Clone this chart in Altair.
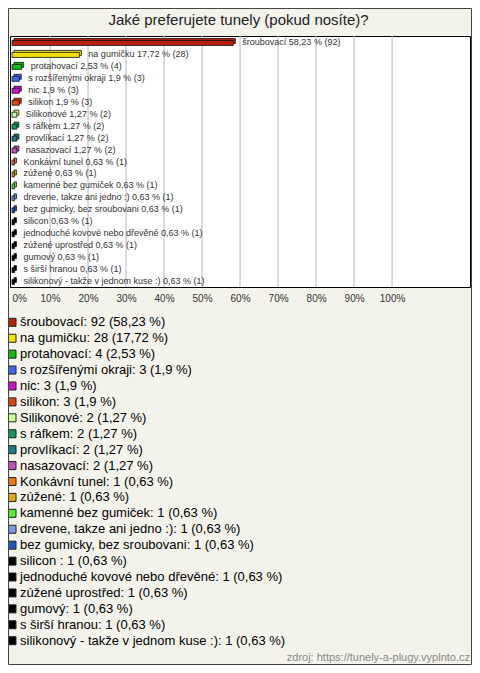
import altair as alt
import pandas as pd

TITLE = "Jaké preferujete tunely (pokud nosíte)?"
SOURCE = "zdroj: https://tunely-a-plugy.vyplnto.cz"

names = [
    "šroubovací", "na gumičku", "protahovací", "s rozšířenými okraji", "nic",
    "silikon", "Silikonové", "s ráfkem", "provlíkací", "nasazovací",
    "Konkávní tunel", "zúžené", "kamenné bez gumiček", "drevene, takze ani jedno :)",
    "bez gumicky, bez sroubovani", "silicon ", "jednoduché kovové nebo dřevěné",
    "zúžené uprostřed", "gumový", "s širší hranou", "silikonový - takže v jednom kuse :)",
]
counts = [92, 28, 4, 3, 3, 3, 2, 2, 2, 2, 1, 1, 1, 1, 1, 1, 1, 1, 1, 1, 1]
percents = [58.23, 17.72, 2.53, 1.9, 1.9, 1.9, 1.27, 1.27, 1.27, 1.27,
            0.63, 0.63, 0.63, 0.63, 0.63, 0.63, 0.63, 0.63, 0.63, 0.63, 0.63]
colors = [
    "#b8200f", "#f0e010", "#11bb11", "#4466ee", "#cc11cc", "#dd4411",
    "#ccff99", "#119955", "#227788", "#bb55bb", "#ee7711", "#ddaa11",
    "#55ee33", "#7799dd", "#2255bb", "#000000", "#000000", "#000000",
    "#000000", "#000000", "#000000",
]
tick_values = [0, 10, 20, 30, 40, 50, 60, 70, 80, 90, 100]
grid_values = [10, 20, 30, 40, 50, 60, 70, 80, 90, 100]


def fmt(p):
    return f"{p:g}".replace(".", ",")


df = pd.DataFrame({
    "name": names,
    "count": counts,
    "pct": percents,
    "bar_label": [f"{n} {fmt(p)} % ({c})" for n, p, c in zip(names, percents, counts)],
    "legend_label": [f"{n}: {c} ({fmt(p)} %)" for n, p, c in zip(names, percents, counts)],
})

FONT = "Liberation Sans"
W, H = 460, 251
TOTAL_W, TOTAL_H = 464, 657
PAD = {"left": 2, "top": 28, "right": TOTAL_W - 2 - W, "bottom": TOTAL_H - 28 - H}

x_scale = alt.Scale(domain=[-0.53, 120.5], nice=False, zero=False)
x_axis = alt.Axis(values=tick_values, labelExpr="datum.value + '%'", grid=False,
                  ticks=False, domain=False, labelFlush=3, labelFontSize=10,
                  labelColor="#333333", labelFont=FONT, labelPadding=6, title=None)
color_scale = alt.Scale(domain=names, range=colors)
bar_y = alt.Y("name:N", sort=names, axis=None,
              scale=alt.Scale(paddingInner=0, paddingOuter=0))
leg_y = alt.Y("name:N", sort=names, axis=None,
              scale=alt.Scale(type="point", range=[286.3, 604.7], padding=0))

grid = alt.Chart(pd.DataFrame({"t": grid_values})).mark_rule(
    color="#b8b8b8", strokeWidth=1
).encode(
    x=alt.X("t:Q", scale=x_scale, axis=x_axis),
    y=alt.value(0), y2=alt.value(H),
)

back = alt.Chart().mark_bar(size=5, xOffset=2, x2Offset=2, yOffset=-1,
                            stroke="#111111", strokeWidth=0.8).encode(
    x=alt.X("pct:Q", scale=x_scale, axis=x_axis), x2=alt.datum(0), y=bar_y,
    color=alt.Color("name:N", scale=color_scale, legend=None),
)
front = alt.Chart().mark_bar(size=5, yOffset=1, stroke="#111111", strokeWidth=0.8).encode(
    x=alt.X("pct:Q", scale=x_scale, axis=x_axis), x2=alt.datum(0), y=bar_y,
    color=alt.Color("name:N", scale=color_scale, legend=None),
)
labels = alt.Chart().mark_text(align="left", baseline="middle", dx=9, fontSize=9,
                               font=FONT, color="#333333").encode(
    x=alt.X("pct:Q", scale=x_scale, axis=x_axis), y=bar_y, text="bar_label:N",
)
bars = alt.layer(back, front, labels, data=df)

squares = alt.Chart().mark_square(size=64, stroke="#222222", strokeWidth=1,
                                  opacity=1).encode(
    x=alt.value(2), y=leg_y,
    color=alt.Color("name:N", scale=color_scale, legend=None),
)
leg_text = alt.Chart().mark_text(align="left", baseline="middle", fontSize=13,
                                 font=FONT, color="#000000").encode(
    x=alt.value(10), y=leg_y, text="legend_label:N",
)
legend = alt.layer(squares, leg_text, data=df)

one = alt.Data(values=[{}])
title = alt.Chart(one).mark_text(text=TITLE, fontSize=15, font=FONT, align="center",
                                 baseline="alphabetic", color="#222222").encode(
    x=alt.value(228.5), y=alt.value(-11))
footer = alt.Chart(one).mark_text(text=SOURCE, fontSize=11, font=FONT, align="right",
                                  baseline="middle", color="#888888").encode(
    x=alt.value(460), y=alt.value(TOTAL_H - 28 - 7))
frame = alt.Chart(one).mark_rect(fillOpacity=0, stroke="#444444", strokeWidth=1).encode(
    x=alt.value(-1.5), x2=alt.value(TOTAL_W - 2 - 0.5),
    y=alt.value(-27.5), y2=alt.value(TOTAL_H - 28 - 0.5))

chart = alt.layer(grid, bars, legend, title, footer, frame).resolve_scale(
    y="independent"
).properties(
    width=W, height=H,
    autosize=alt.AutoSizeParams(type="none"),
    padding=PAD,
    background="#f3f3ec",
).configure_view(stroke="#000000", strokeWidth=1, fill="white")

chart.save("out.html", embed_options={"renderer": "svg", "actions": False})
